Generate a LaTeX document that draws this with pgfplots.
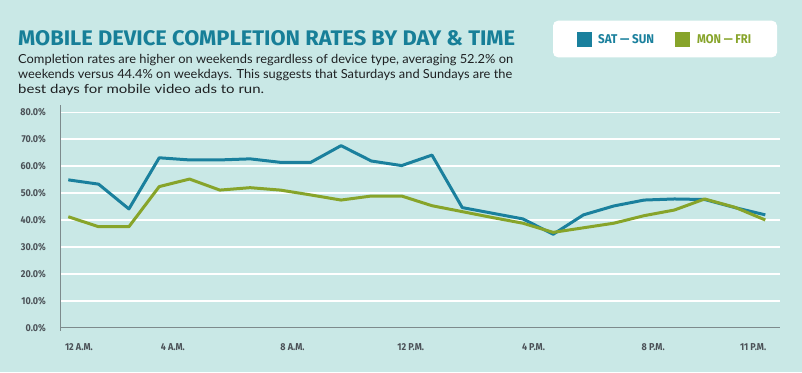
\documentclass[border=0pt]{standalone}
\usepackage{pgfplots}
\pgfplotsset{compat=1.18}
\usepackage{fontspec}
\setmainfont{Lato}
\newfontfamily\fira{Fira Sans}
\definecolor{bg}{HTML}{C9E8E6}
\definecolor{blueline}{HTML}{1A809D}
\definecolor{greenline}{HTML}{87A42A}
\definecolor{titlec}{HTML}{177F98}
\definecolor{tickc}{HTML}{4B5157}
\definecolor{axisc}{HTML}{7D8A8C}
\definecolor{bodyc}{HTML}{1E2022}
\newcommand\tl[1]{\scalebox{0.9}[1]{#1}}
\begin{document}
\begin{tikzpicture}[x=1pt,y=1pt]
\fill[bg] (0,0) rectangle (802,372);
\path[use as bounding box] (0,0) rectangle (802,372);
\node[anchor=base west, inner sep=0, text=titlec] at (18,326) {\resizebox{497pt}{15pt}{\fira\bfseries MOBILE DEVICE COMPLETION RATES BY DAY \& TIME}};
\node[anchor=base west, inner sep=0, text=bodyc] at (18,308.7) {\resizebox{495pt}{9.2pt}{\fontsize{12}{14}\selectfont Completion rates are higher on weekends regardless of device type, averaging 52.2\% on}};
\node[anchor=base west, inner sep=0, text=bodyc] at (18,293.7) {\resizebox{494pt}{9.2pt}{\fontsize{12}{14}\selectfont weekends versus 44.4\% on weekdays. This suggests that Saturdays and Sundays are the}};
\node[anchor=base west, inner sep=0, text=bodyc] at (18,278.7) {\resizebox{246pt}{9.2pt}{\fontsize{12}{14}\selectfont best days for mobile video ads to run.}};
% legend
\fill[white, rounded corners=5pt] (553,314.7) rectangle (777,351.3);
\fill[blueline] (576.7,325.3) rectangle (591.7,339.7);
\node[anchor=base west, inner sep=0, text=blueline] at (598,328) {\resizebox{56pt}{9pt}{\fira\bfseries SAT — SUN}};
\fill[greenline] (675,325.3) rectangle (690,339.7);
\node[anchor=base west, inner sep=0, text=greenline] at (697,328) {\resizebox{54pt}{9pt}{\fira\bfseries MON — FRI}};
\begin{axis}[
  at={(60pt,44.3pt)}, anchor=south west,
  scale only axis, width=720pt, height=222.7pt,
  xmin=-0.274, xmax=23.485, ymin=0, ymax=82.7,
  axis line style={draw=none}, tick style={draw=none},
  ymajorgrids, grid style={white, line width=1.5pt},
  clip mode=individual,
  ytick={0,10,20,30,40,50,60,70,80},
  yticklabels={\tl{0.0\%},\tl{10.0\%},\tl{20.0\%},\tl{30.0\%},\tl{40.0\%},\tl{50.0\%},\tl{60.0\%},\tl{70.0\%},\tl{80.0\%}},
  xtick={0.35,3.45,7.4,11.3,15.35,19.3,22.6},
  xticklabels={\tl{12 A.M.},\tl{4 A.M.},\tl{8 A.M.},\tl{12 P.M.},\tl{4 P.M.},\tl{8 P.M.},\tl{11 P.M.}},
  ticklabel style={font=\fira\fontsize{10}{12}\selectfont\bfseries, text=tickc},
  yticklabel style={anchor=east, inner sep=0pt, xshift=-14pt},
  xticklabel style={anchor=base, inner sep=0pt, yshift=-22.3pt},
  /pgf/number format/assume math mode=true,
]
\addplot[blueline, line width=3pt, line join=round] coordinates {
(0,54.9) (1,53.3) (2,44.1) (3,63.1) (4,62.3) (5,62.3) (6,62.7) (7,61.4) (8,61.4) (9,67.6) (10,61.9) (11,60.2)
(12,64.1) (13,44.6) (14,42.5) (15,40.4) (16,34.7) (17,41.9) (18,45.2) (19,47.4) (20,47.8) (21,47.6) (22,44.6) (23,41.9)};
\addplot[greenline, line width=3pt, line join=round] coordinates {
(0,41.2) (1,37.5) (2,37.5) (3,52.4) (4,55.2) (5,51.1) (6,52.0) (7,51.1) (8,49.3) (9,47.4) (10,48.9) (11,48.9)
(12,45.3) (13,43.1) (14,40.9) (15,38.8) (16,35.4) (17,37.1) (18,38.8) (19,41.6) (20,43.7) (21,47.8) (22,44.7) (23,40.0)};
\draw[axisc, line width=1.2pt] (axis cs:-0.274,0) -- (axis cs:23.485,0);
\draw[axisc, line width=1pt] (axis cs:-0.274,-1.2) -- (axis cs:-0.274,82.7);
\draw[axisc, line width=1pt] (axis cs:-0.274,0) -- ++(-5pt,0);
\end{axis}
\end{tikzpicture}
\end{document}
